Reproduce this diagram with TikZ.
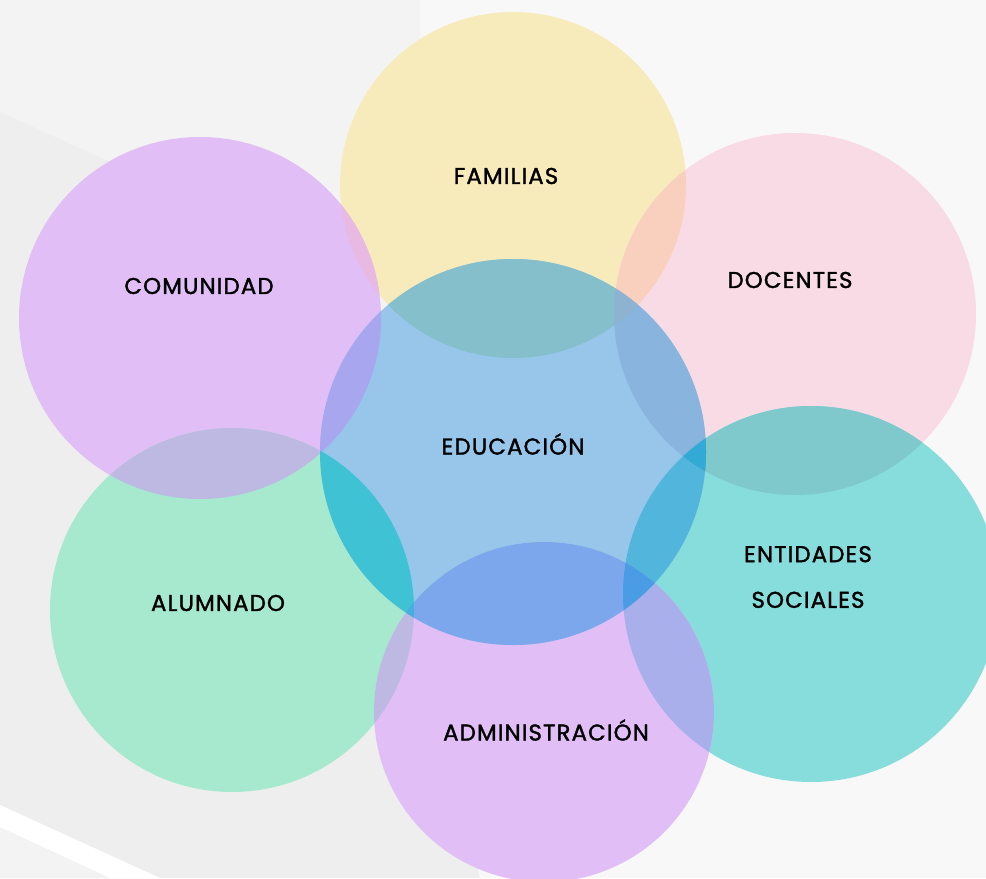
\documentclass[tikz,border=0pt]{standalone}
\usepackage{fontspec}
\setmainfont{Poppins}[LetterSpace=5,FakeBold=1.5]
\usepackage{tikz}

\definecolor{fondo}{HTML}{F8F8F8}
\definecolor{fondoizq}{HTML}{F3F3F3}
\definecolor{fondobajo}{HTML}{EEEEEE}
\definecolor{amarillo}{HTML}{F8EBBB}
\definecolor{rosa}{HTML}{F9DBE5}
\definecolor{lila}{HTML}{E2BEF7}
\definecolor{azul}{HTML}{97C6EA}
\definecolor{verde}{HTML}{A6E9CE}
\definecolor{turquesa}{HTML}{87DCDC}
% colores de los cruces
\definecolor{famcom}{HTML}{E7B9E3}
\definecolor{famdoc}{HTML}{F9D0BE}
\definecolor{comalu}{HTML}{BDB9E2}
\definecolor{docent}{HTML}{7FC9CD}
\definecolor{aluadm}{HTML}{BDB9E3}
\definecolor{entadm}{HTML}{A9AFEA}
\definecolor{edufam}{HTML}{84BFCB}
\definecolor{educom}{HTML}{A7A6EF}
\definecolor{edudoc}{HTML}{89B4DD}
\definecolor{edualu}{HTML}{3FC2D4}
\definecolor{eduent}{HTML}{52B6DC}
\definecolor{eduadm}{HTML}{7CA7EC}
\definecolor{edufamdoc}{HTML}{8DB3D0}
\definecolor{edudocent}{HTML}{33A9D5}
\definecolor{eduentadm}{HTML}{4A9DE4}
\definecolor{edualuadm}{HTML}{45B0DE}

\newcommand{\circulo}[3]{(#1,#2) circle[radius=#3]}
\newcommand{\cfam}{\circulo{513}{185}{173}}
\newcommand{\ccom}{\circulo{200}{318}{181}}
\newcommand{\cdoc}{\circulo{795}{314}{181}}
\newcommand{\cedu}{\circulo{513}{452}{193}}
\newcommand{\calu}{\circulo{232}{610}{182}}
\newcommand{\cent}{\circulo{811}{594}{188}}
\newcommand{\cadm}{\circulo{544}{712}{170}}
% zona comun de dos (o tres) circulos
\newcommand{\cruce}[3]{\begin{scope}\clip #1; \fill[#3] #2; \end{scope}}
\newcommand{\trio}[4]{\begin{scope}\clip #1; \clip #2; \fill[#4] #3; \end{scope}}

\begin{document}
\begin{tikzpicture}[x=0.02cm,y=-0.02cm,
    rotulo/.style={font=\fontsize{13}{26}\selectfont, text=black, align=center}]
    \useasboundingbox (0,0) rectangle (986,878);
    \clip (0,0) rectangle (986,878);

    % fondo
    \fill[fondo] (0,0) rectangle (986,878);
    \fill[fondoizq] (0,0) -- (420,0) -- (420,878) -- (0,878) -- cycle;
    \fill[fondobajo] (0,112) -- (330,262) -- (480,878) -- (0,878) -- cycle;
    \fill[fondoizq] (0,827) -- (110,878) -- (0,878) -- cycle;
    \fill[white] (0,805) -- (160,878) -- (110,878) -- (0,827) -- cycle;

    % circulos
    \fill[amarillo] \cfam;
    \fill[rosa] \cdoc;
    \fill[lila] \ccom;
    \fill[verde] \calu;
    \fill[turquesa] \cent;
    \fill[lila] \cadm;
    \fill[azul] \cedu;

    \cruce{\cfam}{\ccom}{famcom}
    \cruce{\cfam}{\cdoc}{famdoc}
    \cruce{\ccom}{\calu}{comalu}
    \cruce{\cdoc}{\cent}{docent}
    \cruce{\calu}{\cadm}{aluadm}
    \cruce{\cent}{\cadm}{entadm}
    \cruce{\cedu}{\cfam}{edufam}
    \cruce{\cedu}{\ccom}{educom}
    \cruce{\cedu}{\cdoc}{edudoc}
    \cruce{\cedu}{\calu}{edualu}
    \cruce{\cedu}{\cent}{eduent}
    \cruce{\cedu}{\cadm}{eduadm}
    \trio{\cedu}{\cfam}{\cdoc}{edufamdoc}
    \trio{\cedu}{\cdoc}{\cent}{edudocent}
    \trio{\cedu}{\cent}{\cadm}{eduentadm}
    \trio{\cedu}{\calu}{\cadm}{edualuadm}

    % textos
    \node[rotulo] (familias) at (506,176) {FAMILIAS};
    \node[rotulo] (comunidad) at (199,286) {COMUNIDAD};
    \node[rotulo] (docentes) at (790,280) {DOCENTES};
    \node[rotulo] (educacion) at (513,444) {EDUCACIÓN};
    \node[rotulo] (alumnado) at (218,603) {ALUMNADO};
    \node[rotulo] (entidades) at (808,577) {ENTIDADES\\SOCIALES};
    \node[rotulo] (administracion) at (546,730) {ADMINISTRACIÓN};
\end{tikzpicture}
\end{document}
